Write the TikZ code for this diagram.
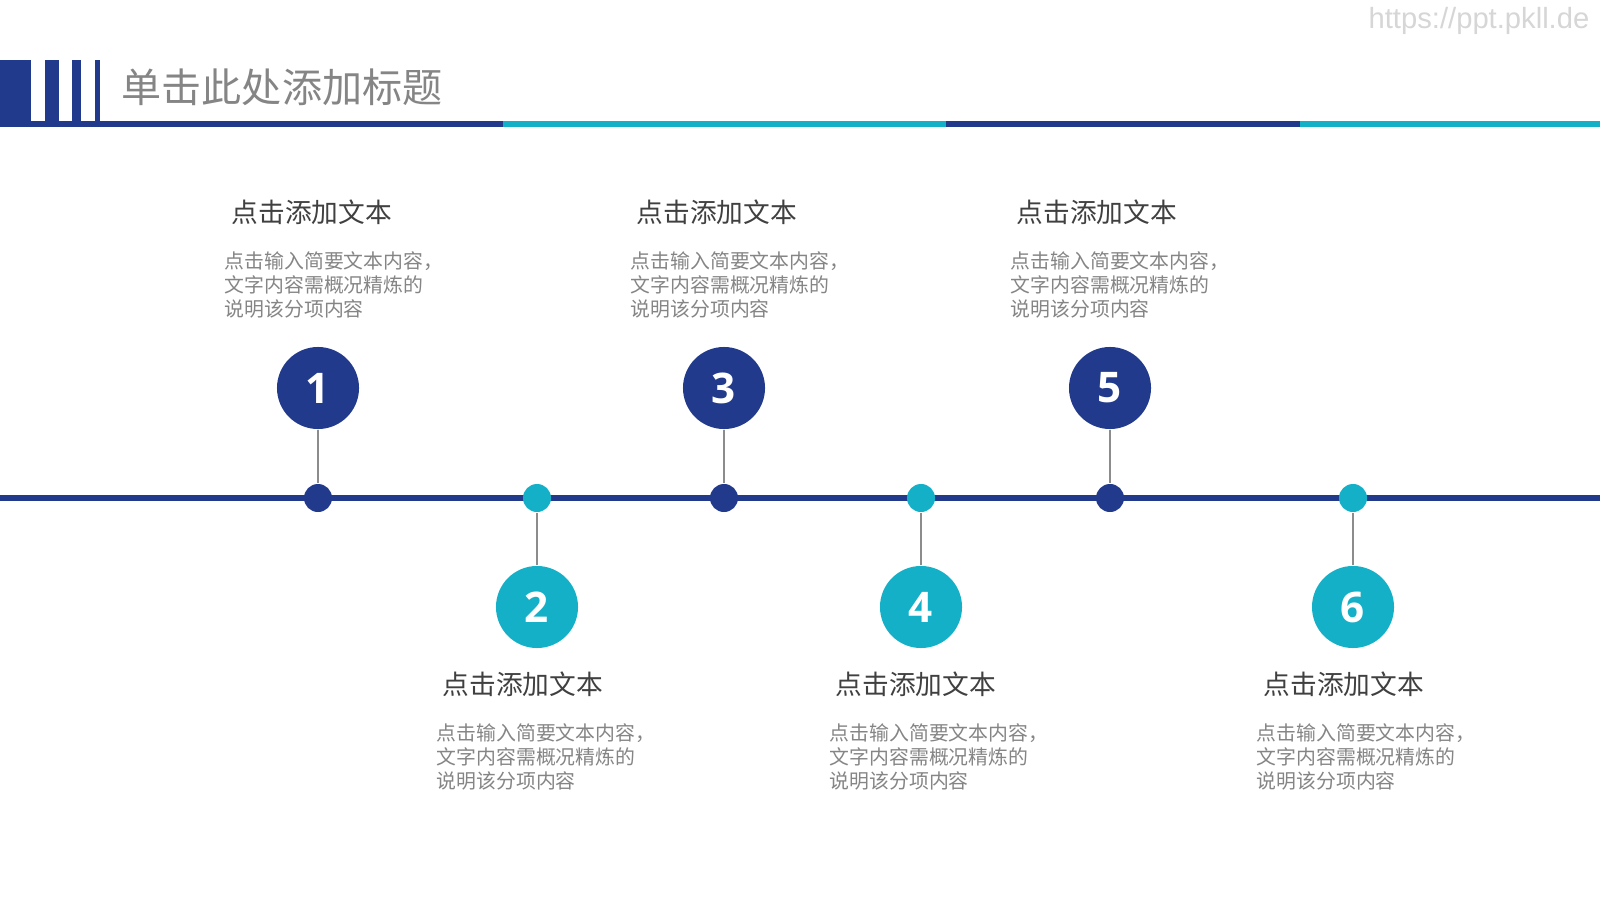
\documentclass[tikz,border=0pt]{standalone}
\usepackage{fontspec}
\setmainfont{Noto Sans CJK SC}
\newfontfamily\numfont{Open Sans}
\newfontfamily\urlfont{Liberation Sans}
\usepackage{tikz}
\usetikzlibrary{positioning}
\definecolor{LanShen}{HTML}{213A8C}
\definecolor{LanQing}{HTML}{14B0C8}
\definecolor{HuiShen}{HTML}{404040}
\definecolor{HuiZhong}{HTML}{858585}
\definecolor{HuiXian}{HTML}{8C8C8C}
\definecolor{HuiQian}{HTML}{D6D6D6}

\begin{document}
\begin{tikzpicture}[
  x=0.01cm,y=-0.01cm,
  hao/.style={circle,inner sep=0pt,minimum size=0.82cm,text=white,
    font=\numfont\bfseries\fontsize{12pt}{14pt}\selectfont},
  dian/.style={circle,inner sep=0pt,minimum size=0.28cm},
  gan/.style={HuiXian,line width=0.75pt},
  biaoti/.style={anchor=west,inner sep=0pt,text=HuiShen,
    font=\fontsize{7.6pt}{9pt}\selectfont},
  zhengwen/.style={anchor=north west,inner sep=0pt,align=left,text=HuiZhong,
    font=\fontsize{5.65pt}{6.83pt}\selectfont}
]
  % 背景与页面大小
  \fill[white] (0,0) rectangle (1600,900);
  \useasboundingbox (0,0) rectangle (1600,900);

  % 页眉：色块、竖条与分段横线
  \fill[LanShen] (0,60) rectangle (31,127);
  \fill[LanShen] (45,60) rectangle (59,121);
  \fill[LanShen] (72,60) rectangle (81,121);
  \fill[LanShen] (95,60) rectangle (100,121);
  \fill[LanShen] (0,121) rectangle (503,127);
  \fill[LanQing] (503,121) rectangle (946,127);
  \fill[LanShen] (946,121) rectangle (1300,127);
  \fill[LanQing] (1300,121) rectangle (1600,127);
  \node[anchor=west,inner sep=0pt,text=HuiZhong,
    font=\fontsize{11.4pt}{13pt}\selectfont] (title) at (121,87)
    {单击此处添加标题};
  \node[anchor=east,inner sep=0pt,text=HuiQian,
    font=\urlfont\fontsize{8.3pt}{10pt}\selectfont] (url) at (1590,21)
    {https://ppt.pkll.de};

  % 时间轴
  \coordinate (zuo) at (0,498);
  \coordinate (you) at (1600,498);
  \draw[LanShen,line width=1.6pt] (zuo)--(you);

  % 轴上的小圆点
  \node[dian,fill=LanShen] (d1) at (318,498) {};
  \node[dian,fill=LanQing] (d2) at (537,498) {};
  \node[dian,fill=LanShen] (d3) at (724,498) {};
  \node[dian,fill=LanQing] (d4) at (921,498) {};
  \node[dian,fill=LanShen] (d5) at (1110,498) {};
  \node[dian,fill=LanQing] (d6) at (1353,498) {};

  % 编号圆
  \node[hao,fill=LanShen] (c1) at (318,388) {1};
  \node[hao,fill=LanQing] (c2) at (537,607) {2};
  \node[hao,fill=LanShen] (c3) at (724,388) {3};
  \node[hao,fill=LanQing] (c4) at (921,607) {4};
  \node[hao,fill=LanShen] (c5) at (1110,388) {5};
  \node[hao,fill=LanQing] (c6) at (1353,607) {6};
  \draw[gan] (c1)--(d1);
  \draw[gan] (c2)--(d2);
  \draw[gan] (c3)--(d3);
  \draw[gan] (c4)--(d4);
  \draw[gan] (c5)--(d5);
  \draw[gan] (c6)--(d6);

  % 上方文字
  \node[biaoti] (h1) at (231,212) {点击添加文本};
  \node[zhengwen] (t1) at (224,251)
    {点击输入简要文本内容，\\文字内容需概况精炼的\\说明该分项内容};
  \node[biaoti] (h3) at (636,212) {点击添加文本};
  \node[zhengwen] (t3) at (630,251)
    {点击输入简要文本内容，\\文字内容需概况精炼的\\说明该分项内容};
  \node[biaoti] (h5) at (1016,212) {点击添加文本};
  \node[zhengwen] (t5) at (1010,251)
    {点击输入简要文本内容，\\文字内容需概况精炼的\\说明该分项内容};

  % 下方文字
  \node[biaoti] (h2) at (442,684) {点击添加文本};
  \node[zhengwen] (t2) at (436,723)
    {点击输入简要文本内容，\\文字内容需概况精炼的\\说明该分项内容};
  \node[biaoti] (h4) at (835,684) {点击添加文本};
  \node[zhengwen] (t4) at (829,723)
    {点击输入简要文本内容，\\文字内容需概况精炼的\\说明该分项内容};
  \node[biaoti] (h6) at (1263,684) {点击添加文本};
  \node[zhengwen] (t6) at (1256,723)
    {点击输入简要文本内容，\\文字内容需概况精炼的\\说明该分项内容};
\end{tikzpicture}
\end{document}
